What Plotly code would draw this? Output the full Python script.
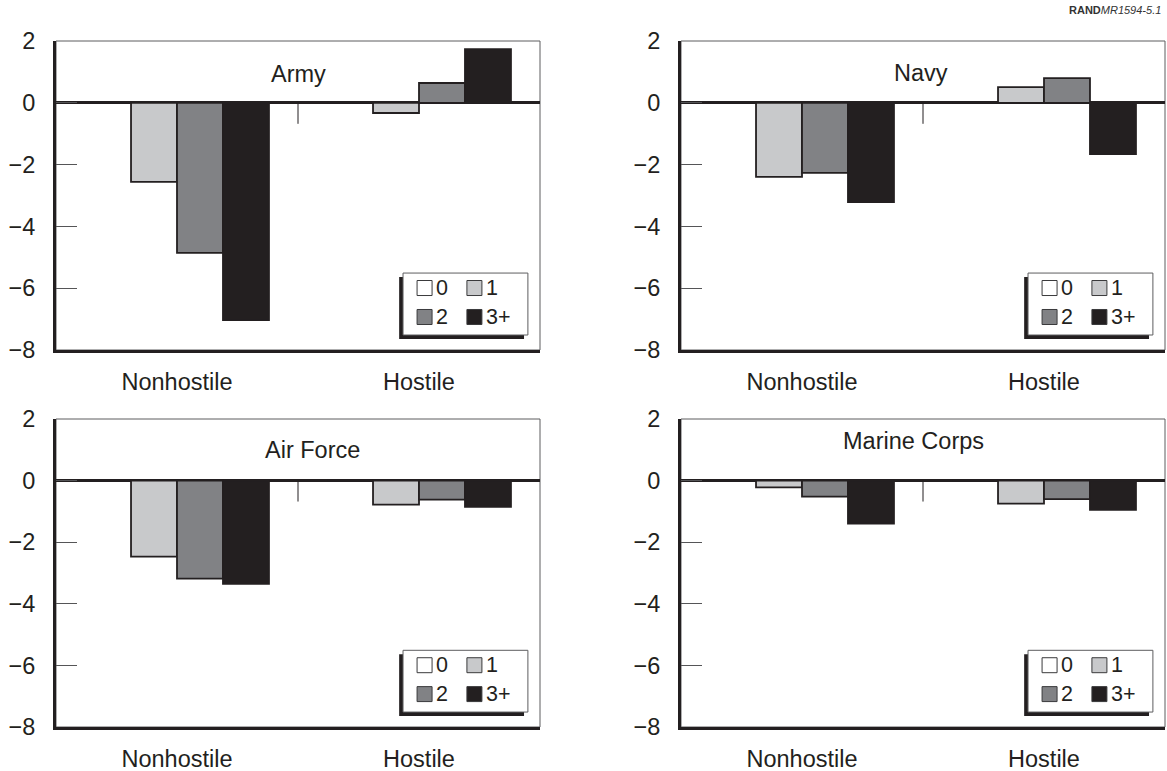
import plotly.graph_objects as go

# ---------------- data ----------------
categories = ["Nonhostile", "Hostile"]
groups = ["0", "1", "2", "3+"]
services = ["Army", "Navy", "Air Force", "Marine Corps"]

army_0 = [0, 0]
army_1 = [-2.56, -0.33]
army_2 = [-4.86, 0.64]
army_3 = [-7.03, 1.74]

navy_0 = [0, 0]
navy_1 = [-2.40, 0.51]
navy_2 = [-2.27, 0.80]
navy_3 = [-3.21, -1.66]

airforce_0 = [0, 0]
airforce_1 = [-2.47, -0.78]
airforce_2 = [-3.18, -0.62]
airforce_3 = [-3.35, -0.85]

marines_0 = [0, 0]
marines_1 = [-0.22, -0.75]
marines_2 = [-0.52, -0.60]
marines_3 = [-1.40, -0.95]

y_ticks = [-8, -6, -4, -2, 0, 2]
y_tick_labels = ["\u22128", "\u22126", "\u22124", "\u22122", "0", "2"]

# ---------------- style ----------------
W, H = 1167, 771
INK = "#231f20"
FRAME = "#5d5d5f"
FILLS = ["#ffffff", "#c8c9cb", "#818285", "#231f20"]
FONT = "Liberation Sans, Arial, Helvetica, sans-serif"
FS = 23.5

series = [
    [army_0, army_1, army_2, army_3],
    [navy_0, navy_1, navy_2, navy_3],
    [airforce_0, airforce_1, airforce_2, airforce_3],
    [marines_0, marines_1, marines_2, marines_3],
]

# pixel boxes of panels (left, right, top, bottom)
cols = [(56, 540), (681, 1165)]
rows = [(41, 350), (419, 727)]
title_pos = [(0.50, 0.893), (0.495, 0.895), (0.53, 0.90), (0.48, 0.928)]

fig = go.Figure()
layout = dict(
    width=W, height=H, autosize=False,
    margin=dict(l=0, r=0, t=0, b=0, pad=0, autoexpand=False),
    paper_bgcolor="white", plot_bgcolor="white",
    barmode="group", bargap=0.24, bargroupgap=0,
    showlegend=False,
    font=dict(family=FONT, size=FS, color=INK),
)
shapes = []
annotations = []

for k in range(4):
    r, c = divmod(k, 2)
    sfx = "" if k == 0 else str(k + 1)
    xa, ya = "x" + sfx, "y" + sfx
    xl, xr = cols[c]
    yt, yb = rows[r]
    for g in range(4):
        fig.add_trace(go.Bar(
            x=categories, y=series[k][g], name=groups[g],
            xaxis=xa, yaxis=ya,
            marker=dict(color=FILLS[g], line=dict(color=INK, width=1.8)),
            showlegend=False,
        ))
    layout["xaxis" + sfx] = dict(
        domain=[xl / W, xr / W], anchor=ya, automargin=False,
        showline=True, linewidth=3, linecolor=INK, mirror=False,
        ticks="", showgrid=False, zeroline=False,
        tickfont=dict(size=FS, color=INK), ticklabelstandoff=9,
        fixedrange=True,
    )
    layout["yaxis" + sfx] = dict(
        domain=[(H - yb) / H, (H - yt) / H], anchor=xa, automargin=False,
        range=[-8, 2], tickvals=y_ticks, ticktext=y_tick_labels,
        showline=True, linewidth=3, linecolor=INK, mirror=False,
        ticks="inside", ticklen=21, tickwidth=1, tickcolor="#555557",
        showgrid=False, zeroline=True, zerolinewidth=2.5, zerolinecolor=INK,
        tickfont=dict(size=FS, color=INK), ticklabelstandoff=13,
        fixedrange=True,
    )
    xd, yd = xa + " domain", ya + " domain"
    shapes.append(dict(type="rect", xref=xd, yref=yd, x0=0, x1=1, y0=0, y1=1,
                       line=dict(color=FRAME, width=1), layer="below"))
    shapes.append(dict(type="line", xref=xa, yref=ya, x0=0.5, x1=0.5, y0=0, y1=-0.68,
                       line=dict(color=INK, width=1)))
    shapes.append(dict(type="rect", xref=xd, yref=yd, x0=0.709, x1=0.967, y0=0.036, y1=0.236,
                       fillcolor=INK, line=dict(width=0)))
    shapes.append(dict(type="rect", xref=xd, yref=yd, x0=0.717, x1=0.975, y0=0.0485, y1=0.249,
                       fillcolor="white", line=dict(color=FRAME, width=1)))
    sw_x = [0.746, 0.849]
    tx_x = [0.781, 0.885]
    row_y = [0.2006, 0.1068]
    half = 0.0243
    for g in range(4):
        rr, cc = divmod(g, 2)
        shapes.append(dict(type="rect", xref=xd, yref=yd,
                           x0=sw_x[cc], x1=sw_x[cc] + 0.031,
                           y0=row_y[rr] - half, y1=row_y[rr] + half,
                           fillcolor=FILLS[g], line=dict(color="#3a3a3c", width=1)))
        annotations.append(dict(xref=xd, yref=yd, x=tx_x[cc], y=row_y[rr],
                                text=groups[g], showarrow=False, xanchor="left", yanchor="middle",
                                font=dict(size=21.5, color=INK, family=FONT)))
    tx, ty = title_pos[k]
    annotations.append(dict(xref=xd, yref=yd, x=tx, y=ty, text=services[k], showarrow=False,
                            xanchor="center", yanchor="middle",
                            font=dict(size=FS, color=INK, family=FONT)))

annotations.append(dict(xref="paper", yref="paper", x=1163 / W, y=1 - 10 / H,
                        text="<b>RAND</b><i>MR1594-5.1</i>", showarrow=False,
                        xanchor="right", yanchor="middle",
                        font=dict(size=11, color="#333333", family=FONT)))

layout["shapes"] = shapes
layout["annotations"] = annotations
fig.update_layout(**layout)
fig.write_html(
    "out.html",
    config={"displayModeBar": False},
    post_script="document.body.style.margin='0';document.body.style.padding='0';"
                "document.documentElement.style.margin='0';document.body.style.overflow='hidden';",
)
